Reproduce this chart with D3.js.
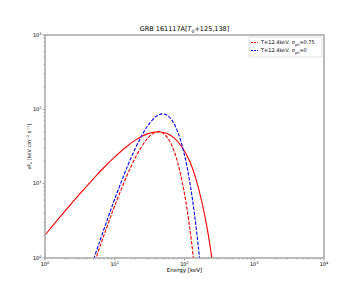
<!DOCTYPE html>
<html>
<head>
<meta charset="utf-8">
<script src="https://cdn.jsdelivr.net/npm/d3@7"></script>
<style>
  body { margin: 0; background: #fff; }
  text { font-family: "DejaVu Sans", sans-serif; fill: #000; }
</style>
</head>
<body>
<svg id="chart" width="360" height="296"></svg>
<script>
// energies (keV) and nuFnu values
const bbEnergy  = [5.0, 6, 8, 10, 15, 20, 25, 30, 40, 48, 55, 65, 80, 100, 120, 140, 160, 170];
const bbFlux    = [0.97, 1.61, 3.48, 6.21, 16.6, 30.7, 46.2, 60.9, 81.5, 86.9, 84.4, 73.1, 49.8, 24.2, 10.0, 3.70, 1.26, 0.72];

const sigEnergy = [5.2, 5.5, 7, 10, 15, 20, 25, 30, 35, 42, 50, 60, 70, 80, 100, 120, 135];
const sigFlux   = [0.91, 1.06, 2.02, 5.05, 12.9, 22.9, 32.9, 41.3, 47.0, 50.0, 47.4, 38.7, 28.3, 19.1, 7.3, 2.38, 0.95];

const totEnergy = [1, 2, 3, 5, 7, 10, 15, 20, 30, 42, 55, 70, 90, 120, 150, 180, 210, 240, 260];
const totFlux   = [2.04, 4.43, 6.89, 11.8, 16.5, 22.9, 31.9, 38.8, 47.1, 50.0, 47.7, 41.7, 32.1, 19.6, 10.6, 5.3, 2.6, 1.2, 0.7];

const xTickExp = [0, 1, 2, 3, 4];
const yTickExp = [0, 1, 2, 3];

const legendItems = [
  {color: "#ff0000", label: "T=12.4keV, σ", sub: "ph", rest: "=0.75"},
  {color: "#0000ff", label: "T=12.4keV, σ", sub: "ph", rest: "=0"}
];

const margin = {left: 45, top: 35, right: 36, bottom: 38};
const W = 360, H = 296;
const svg = d3.select("#chart");

const xScale = d3.scaleLog().domain([1, 1e4]).range([margin.left, W - margin.right]);
const yScale = d3.scaleLog().domain([1, 1e3]).range([H - margin.bottom, margin.top]);

svg.append("clipPath").attr("id", "clip")
  .append("rect")
  .attr("x", margin.left).attr("y", margin.top)
  .attr("width", W - margin.left - margin.right)
  .attr("height", H - margin.top - margin.bottom);

// minor + major ticks
function minorVals(lo, hi) {
  let v = [];
  for (let e = lo; e < hi; e++)
    for (let m = 2; m <= 9; m++) v.push(m * Math.pow(10, e));
  return v;
}

const xAxis = svg.append("g").attr("transform", `translate(0,${H - margin.bottom})`);
xAxis.selectAll(".minor").data(minorVals(0, 4)).enter().append("line")
  .attr("x1", d => xScale(d)).attr("x2", d => xScale(d))
  .attr("y1", 0).attr("y2", 1.5).attr("stroke", "#777").attr("stroke-width", 0.6);
xAxis.selectAll(".major").data(xTickExp).enter().append("line")
  .attr("x1", d => xScale(Math.pow(10, d))).attr("x2", d => xScale(Math.pow(10, d)))
  .attr("y1", 0).attr("y2", 2.5).attr("stroke", "#777").attr("stroke-width", 0.7);
let xl = xAxis.selectAll(".lab").data(xTickExp).enter().append("text")
  .attr("x", d => xScale(Math.pow(10, d))).attr("y", 8)
  .attr("text-anchor", "middle").attr("font-size", 5);
xl.append("tspan").text("10");
xl.append("tspan").attr("dy", -2).attr("font-size", 3.5).text(d => d);

const yAxis = svg.append("g").attr("transform", `translate(${margin.left},0)`);
yAxis.selectAll(".minor").data(minorVals(0, 3)).enter().append("line")
  .attr("y1", d => yScale(d)).attr("y2", d => yScale(d))
  .attr("x1", 0).attr("x2", -1.5).attr("stroke", "#777").attr("stroke-width", 0.6);
yAxis.selectAll(".major").data(yTickExp).enter().append("line")
  .attr("y1", d => yScale(Math.pow(10, d))).attr("y2", d => yScale(Math.pow(10, d)))
  .attr("x1", 0).attr("x2", -2.5).attr("stroke", "#777").attr("stroke-width", 0.7);
let yl = yAxis.selectAll(".lab").data(yTickExp).enter().append("text")
  .attr("x", -3.5).attr("y", d => yScale(Math.pow(10, d)) + 1.8)
  .attr("text-anchor", "end").attr("font-size", 5);
yl.append("tspan").text("10");
yl.append("tspan").attr("dy", -2).attr("font-size", 3.5).text(d => d);

// curves
const line = d3.line()
  .x(d => xScale(d[0])).y(d => yScale(d[1]))
  .curve(d3.curveCatmullRom);

const plot = svg.append("g").attr("clip-path", "url(#clip)");

plot.append("path")
  .datum(totEnergy.map((e, i) => [e, totFlux[i]]))
  .attr("d", line).attr("fill", "none")
  .attr("stroke", "#ff0000").attr("stroke-width", 1.1);

plot.append("path")
  .datum(sigEnergy.map((e, i) => [e, sigFlux[i]]))
  .attr("d", line).attr("fill", "none")
  .attr("stroke", "#ff0000").attr("stroke-width", 1.1)
  .attr("stroke-dasharray", "3.5,1.5");

plot.append("path")
  .datum(bbEnergy.map((e, i) => [e, bbFlux[i]]))
  .attr("d", line).attr("fill", "none")
  .attr("stroke", "#0000ff").attr("stroke-width", 1.1)
  .attr("stroke-dasharray", "3.5,1.5");

// frame
svg.append("rect")
  .attr("x", margin.left).attr("y", margin.top)
  .attr("width", W - margin.left - margin.right)
  .attr("height", H - margin.top - margin.bottom)
  .attr("fill", "none").attr("stroke", "#a0a0a0").attr("stroke-width", 1.4);

// title
let title = svg.append("text")
  .attr("x", (margin.left + W - margin.right) / 2).attr("y", 31)
  .attr("text-anchor", "middle").attr("font-size", 6.5);
title.append("tspan").text("GRB 161117A[");
title.append("tspan").attr("font-style", "italic").text("T");
title.append("tspan").attr("dy", 1.5).attr("font-size", 4.5).text("0");
title.append("tspan").attr("dy", -1.5).text("+125,138]");

// axis labels
svg.append("text")
  .attr("x", (margin.left + W - margin.right) / 2).attr("y", 272)
  .attr("text-anchor", "middle").attr("font-size", 5.5)
  .text("Energy [keV]");

let ylab = svg.append("text")
  .attr("transform", `translate(31,${(margin.top + H - margin.bottom) / 2}) rotate(-90)`)
  .attr("text-anchor", "middle").attr("font-size", 5);
ylab.append("tspan").text("νF");
ylab.append("tspan").attr("dy", 1.2).attr("font-size", 3.5).text("ν");
ylab.append("tspan").attr("dy", -1.2).text(" [keV cm");
ylab.append("tspan").attr("dy", -2).attr("font-size", 3.5).text("−2");
ylab.append("tspan").attr("dy", 2).text(" s");
ylab.append("tspan").attr("dy", -2).attr("font-size", 3.5).text("−1");
ylab.append("tspan").attr("dy", 2).text("]");

// legend
const lg = svg.append("g").attr("transform", "translate(249,37)");
lg.append("rect").attr("width", 73).attr("height", 20)
  .attr("fill", "#fff").attr("stroke", "#ccc").attr("stroke-width", 0.6).attr("rx", 1);
legendItems.forEach((it, i) => {
  const y = 5.5 + i * 8;
  lg.append("line").attr("x1", 2).attr("x2", 9).attr("y1", y).attr("y2", y)
    .attr("stroke", it.color).attr("stroke-width", 1).attr("stroke-dasharray", "2,1");
  let t = lg.append("text").attr("x", 12).attr("y", y + 1.8).attr("font-size", 5);
  t.append("tspan").text(it.label);
  t.append("tspan").attr("dy", 1.2).attr("font-size", 3.5).text(it.sub);
  t.append("tspan").attr("dy", -1.2).text(it.rest);
});
</script>
</body>
</html>
